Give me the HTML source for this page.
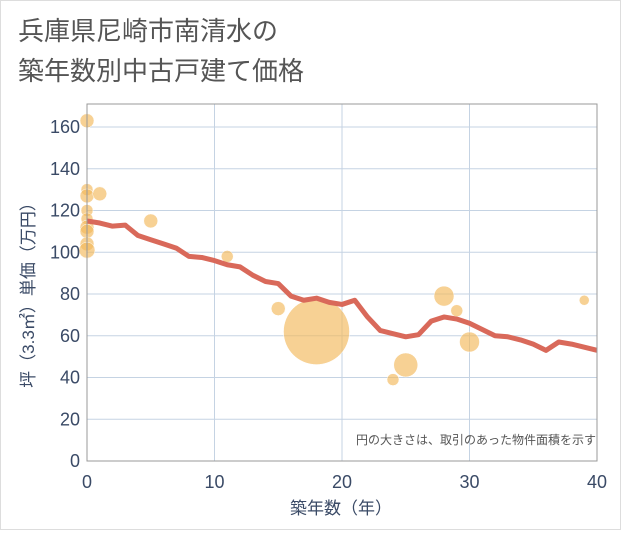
<!DOCTYPE html>
<html><head><meta charset="utf-8"><style>
body{margin:0;background:#fff;font-family:"Liberation Sans","Noto Sans CJK JP",sans-serif;}
#wrap{position:relative;width:619px;height:528px;border:1px solid #ddd;}
</style></head><body>
<div id="wrap">
<svg id="chart" width="619" height="528">
<text x="17" y="39" font-size="26" fill="#555">兵庫県尼崎市南清水の</text>
<text x="17" y="79" font-size="26" fill="#555">築年数別中古戸建て価格</text>
<g id="grid"></g><g id="marks"></g><g id="axes"></g>
<text x="595" y="443" font-size="12" fill="#555" text-anchor="end">円の大きさは、取引のあった物件面積を示す</text>
<text x="340" y="513" font-size="17" fill="#3a4a66" text-anchor="middle">築年数（年）</text>
<text transform="translate(33,290) rotate(-90)" font-size="17" fill="#3a4a66" text-anchor="middle">坪（3.3㎡）単価（万円）</text>
</svg></div>
<script>
const xTicks=[0,10,20,30,40];
const yTicks=[0,20,40,60,80,100,120,140,160];
const lineYears=[0,1,2,3,4,5,6,7,8,9,10,11,12,13,14,15,16,17,18,19,20,21,22,23,24,25,26,27,28,29,30,31,32,33,34,35,36,37,38,39,40];
const lineValues=[115,114,112.5,113,108,106,104,102,98,97.5,96,94,93,89,86,85,79,77,78,76,75,77,69,62.5,61,59.5,60.5,67,69,68,66,63,60,59.5,58,56,53,57,56,54.5,53];
const bubbleX=[0,0,0,1,0,0,0,0,0,0,5,11,15,18,24,25,28,29,30,39];
const bubbleY=[163,130,127,128,120,116,112,110,104,101,115,98,73,62,39,46,79,72,57,77];
const bubbleR=[7,6,7,7,6,6,7,7,7,8,7,6,7,33,6,12,10,6,10,5];
const L=86,R=596,T=103,B=460;
const sx=v=>L+(R-L)*v/40, sy=v=>B-(B-126)*v/160;
const NS="http://www.w3.org/2000/svg";
function mk(t,a,p){const e=document.createElementNS(NS,t);for(const k in a)e.setAttribute(k,a[k]);p.appendChild(e);return e;}
const grid=document.getElementById('grid'),marks=document.getElementById('marks'),axes=document.getElementById('axes');
xTicks.forEach(v=>{
 const g=mk('line',{x1:sx(v),x2:sx(v),y1:T,y2:B,stroke:'#c5d3e3','stroke-width':1},grid);
 
 
 const t=mk('text',{x:sx(v),y:487,'font-size':18,fill:'#3a4a66','text-anchor':'middle'},axes);t.textContent=v;
 
 
});
yTicks.forEach(v=>{
 const g=mk('line',{x1:L,x2:R,y1:sy(v),y2:sy(v),stroke:'#c5d3e3','stroke-width':1},grid);
 
 
 const t=mk('text',{x:79,y:sy(v)+6,'font-size':18,fill:'#3a4a66','text-anchor':'end'},axes);t.textContent=v;
 
 
});
const fr=mk('rect',{x:L,y:T,width:R-L,height:B-T,fill:'none',stroke:'#999','stroke-width':1},axes);


bubbleX.forEach((x,i)=>{
 const c=mk('circle',{cx:sx(x),cy:sy(bubbleY[i]),r:bubbleR[i],fill:'#f2b95a','fill-opacity':0.65,stroke:'#fff','stroke-width':0.5},marks);
 
 
});
const pl=mk('polyline',{points:lineYears.map((x,i)=>sx(x)+','+sy(lineValues[i])).join(' '),fill:'none',stroke:'#d9695a','stroke-width':5,'stroke-linejoin':'round'},marks);


</script>
</body></html>
